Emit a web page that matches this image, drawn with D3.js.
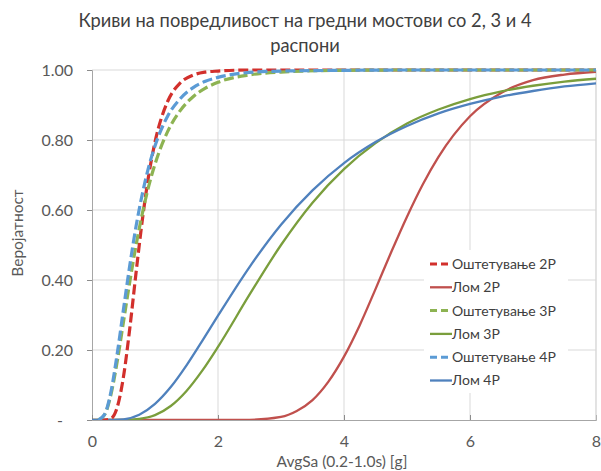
<!DOCTYPE html>
<html>
<head>
<meta charset="utf-8">
<script src="https://cdn.jsdelivr.net/npm/d3@7"></script>
<style>
  html, body { margin: 0; padding: 0; background: #fff; }
  svg { display: block; font-family: Lato, "Open Sans", sans-serif; }
</style>
</head>
<body>
<svg id="chart" width="601" height="471"></svg>
<script>
// ---- data ----
const titleLines = ["Криви на повредливост на гредни мостови со 2, 3 и 4", "распони"];
const xLabel = "AvgSa (0.2-1.0s) [g]";
const yLabel = "Веројатност";
const xTicks = [0, 2, 4, 6, 8];
const yTicks = [0, 0.2, 0.4, 0.6, 0.8, 1.0];
const yTickLabels = ["-", "0.20", "0.40", "0.60", "0.80", "1.00"];

const seriesNames = ["Оштетување 2P", "Лом 2P", "Оштетување 3P", "Лом 3P", "Оштетување 4P", "Лом 4P"];

const xDamage = [0.1, 0.2, 0.3, 0.4, 0.5, 0.6, 0.7, 0.8, 0.9, 1.0, 1.2, 1.4, 1.6, 1.8, 2.0, 2.5, 3.0, 4.0, 5.0, 6.0, 7.0, 8.0];
const damage2P = [0, 0, 0.004, 0.036, 0.124, 0.262, 0.422, 0.573, 0.699, 0.794, 0.910, 0.963, 0.985, 0.994, 0.997, 1.0, 1.0, 1.0, 1.0, 1.0, 1.0, 1.0];
const damage3P = [0.0004, 0.015, 0.072, 0.167, 0.281, 0.395, 0.50, 0.591, 0.668, 0.731, 0.824, 0.884, 0.923, 0.948, 0.965, 0.986, 0.994, 0.999, 1.0, 1.0, 1.0, 1.0];
const damage4P = [0.0003, 0.016, 0.080, 0.189, 0.317, 0.442, 0.554, 0.647, 0.723, 0.783, 0.868, 0.918, 0.949, 0.968, 0.979, 0.993, 0.997, 0.999, 1.0, 1.0, 1.0, 1.0];

const xCollapse2P = [0, 1.0, 2.0, 2.5, 3.0, 3.25, 3.5, 3.75, 4.0, 4.25, 4.5, 4.75, 5.0, 5.25, 5.5, 6.0, 6.5, 7.0, 7.5, 8.0];
const collapse2P = [0, 0, 0, 0.0006, 0.009, 0.026, 0.057, 0.109, 0.181, 0.271, 0.374, 0.480, 0.581, 0.673, 0.752, 0.868, 0.935, 0.971, 0.987, 0.995];

const xCollapse = [0, 0.25, 0.5, 0.75, 1.0, 1.25, 1.5, 1.75, 2.0, 2.5, 3.0, 3.5, 4.0, 4.5, 5.0, 5.5, 6.0, 6.5, 7.0, 7.5, 8.0];
const collapse3P = [0, 0, 0, 0.003, 0.014, 0.040, 0.083, 0.141, 0.209, 0.358, 0.500, 0.621, 0.717, 0.791, 0.847, 0.887, 0.917, 0.939, 0.955, 0.967, 0.975];
const collapse4P = [0, 0, 0.002, 0.015, 0.046, 0.094, 0.156, 0.226, 0.298, 0.437, 0.558, 0.656, 0.734, 0.794, 0.840, 0.876, 0.903, 0.924, 0.940, 0.953, 0.962];

const seriesX = [xDamage, xCollapse2P, xDamage, xCollapse, xDamage, xCollapse];
const seriesY = [damage2P, collapse2P, damage3P, collapse3P, damage4P, collapse4P];
const seriesColors = ["#D2302C", "#C0504D", "#8DB352", "#7A9E3C", "#5B9BD5", "#4F81BD"];
const seriesDashed = [true, false, true, false, true, false];

// ---- layout ----
const svg = d3.select("#chart");
const margin = { left: 92, right: 5, top: 70, bottom: 51 };
const W = 601, H = 471;
const x = d3.scaleLinear().domain([0, 8]).range([margin.left, W - margin.right]);
const y = d3.scaleLinear().domain([0, 1]).range([H - margin.bottom, margin.top]);

const textColor = "#595959";
const fontFam = "Lato, 'Open Sans', sans-serif";

// gridlines
svg.append("g").selectAll("line.hg").data(yTicks.filter(d => d > 0)).join("line")
  .attr("x1", x(0)).attr("x2", x(8)).attr("y1", d => y(d)).attr("y2", d => y(d))
  .attr("stroke", "#d9d9d9").attr("stroke-width", 1);
svg.append("g").selectAll("line.vg").data(xTicks.filter(d => d > 0)).join("line")
  .attr("x1", d => x(d)).attr("x2", d => x(d)).attr("y1", y(0)).attr("y2", y(1))
  .attr("stroke", "#d9d9d9").attr("stroke-width", 1);

// axes
const yAxis = d3.axisLeft(y).tickValues(yTicks).tickSize(5).tickFormat((d, i) => yTickLabels[i]);
const gy = svg.append("g").attr("transform", `translate(${x(0)},0)`).call(yAxis);
gy.select(".domain").attr("stroke", "#a6a6a6");
gy.selectAll(".tick line").attr("stroke", "#8c8c8c");
gy.selectAll(".tick text").attr("fill", textColor).attr("font-size", 16)
  .attr("font-family", fontFam).attr("x", -19).attr("dy", "0.35em");
gy.selectAll(".tick text").filter(d => d === 0).attr("x", -29);

const xAxis = d3.axisBottom(x).tickValues(xTicks).tickSize(-5).tickFormat(d3.format("d"));
const gx = svg.append("g").attr("transform", `translate(0,${y(0)})`).call(xAxis);
gx.select(".domain").attr("stroke", "#a6a6a6");
gx.selectAll(".tick line").attr("stroke", "#8c8c8c");
gx.selectAll(".tick text").attr("fill", textColor).attr("font-size", 16)
  .attr("font-family", fontFam).attr("y", 16);

// right border
svg.append("line").attr("x1", x(8)).attr("x2", x(8)).attr("y1", y(0)).attr("y2", y(1))
  .attr("stroke", "#d9d9d9");

// lines
const clipId = "plotclip";
svg.append("clipPath").attr("id", clipId).append("rect")
  .attr("x", x(0)).attr("y", y(1) - 3).attr("width", x(8) - x(0)).attr("height", y(0) - y(1) + 3);
const lineGen = d3.line().x(d => x(d[0])).y(d => y(d[1])).curve(d3.curveMonotoneX);
const linesG = svg.append("g").attr("clip-path", `url(#${clipId})`);
const order = [1, 3, 5, 0, 2, 4];
order.forEach(i => {
  const pts = seriesX[i].map((v, k) => [v, seriesY[i][k]]);
  linesG.append("path").datum(pts)
    .attr("d", lineGen)
    .attr("fill", "none")
    .attr("stroke", seriesColors[i])
    .attr("stroke-width", seriesDashed[i] ? 3.2 : 2.3)
    .attr("stroke-dasharray", seriesDashed[i] ? "10,4" : null)
    .attr("stroke-linecap", "butt");
});

// legend
const legendG = svg.append("g");
legendG.append("rect").attr("x", 424).attr("y", 250).attr("width", 144).attr("height", 143).attr("fill", "#fff");
seriesNames.forEach((name, i) => {
  const ly = 264 + i * 23.3;
  legendG.append("line").attr("x1", 430).attr("x2", 452).attr("y1", ly).attr("y2", ly)
    .attr("stroke", seriesColors[i]).attr("stroke-width", seriesDashed[i] ? 3 : 2.3)
    .attr("stroke-dasharray", seriesDashed[i] ? "7,4" : null);
  legendG.append("text").attr("x", 452).attr("y", ly).attr("dy", "0.35em")
    .attr("font-size", 14).attr("fill", "#404040").text(name);
});

// title
svg.append("g").selectAll("text").data(titleLines).join("text")
  .attr("x", 305).attr("y", (d, i) => 27 + i * 25)
  .attr("text-anchor", "middle").attr("font-size", 18.3).attr("fill", "#404040")
  .text(d => d);

// axis titles
svg.append("text").attr("x", x(4) - 2).attr("y", 467).attr("text-anchor", "middle")
  .attr("font-size", 15.5).attr("fill", textColor).text(xLabel);
svg.append("text").attr("transform", `translate(23,${233}) rotate(-90)`).attr("text-anchor", "middle")
  .attr("font-size", 15.5).attr("fill", textColor).text(yLabel);
</script>
</body>
</html>
